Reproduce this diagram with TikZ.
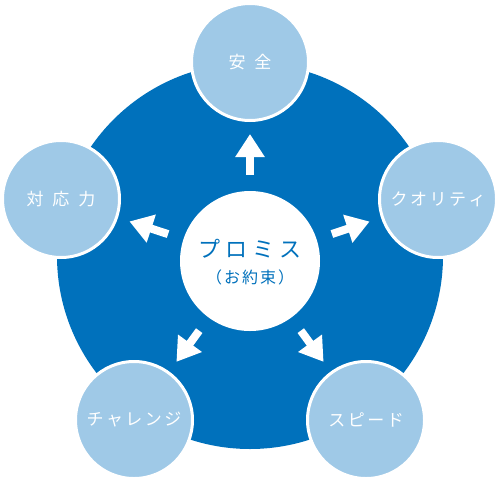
\documentclass[tikz,border=0pt]{standalone}
\usepackage{fontspec}
\setmainfont{Noto Sans CJK JP}
\usetikzlibrary{arrows.meta}
\definecolor{bigblue}{HTML}{0071BC}
\definecolor{lightblue}{HTML}{9FC9E7}
\newcommand{\kg}{\hspace{9pt}}
\newcommand{\ka}{\hspace{2.5pt}}
\newcommand{\cg}{\hspace{5pt}}
\newcommand{\sg}{\hspace{2pt}}
\begin{document}
\begin{tikzpicture}[x=1pt,y=-1pt,
  outer/.style={circle, fill=lightblue, draw=white, line width=3pt, minimum size=117pt, inner sep=0pt},
  lbl/.style={text=white, font=\fontsize{17}{20}\selectfont, inner sep=0pt},
  arr/.style={draw=white, line width=8pt, -{Triangle[width=28pt,length=23pt]}, shorten <=16pt, shorten >=12pt}]
\useasboundingbox (0,0) rectangle (500,482);
\node[circle, fill=bigblue, minimum size=386pt, inner sep=0pt] (base) at (250,256) {};
\node[outer] (top) at (250,62) {};
\node[outer] (ur) at (438,199) {};
\node[outer] (lr) at (366,420) {};
\node[outer] (ll) at (134,420) {};
\node[outer] (ul) at (61,199) {};
\node[lbl] (ttop) at (top) {安\kg 全};
\node[lbl] (tur) at (ur) {ク\ka オ\ka リ\ka テ\ka ィ};
\node[lbl] (tlr) at (lr) {ス\ka ピ\ka ー\ka ド};
\node[lbl] (tll) at (ll) {チ\ka ャ\ka レ\ka ン\ka ジ};
\node[lbl] (tul) at (ul) {対\kg 応\kg 力};
\node[circle, fill=white, minimum size=140pt, inner sep=0pt] (c) at (250,261) {};
\node[text=bigblue, font=\fontsize{22}{26}\selectfont, inner sep=0pt] (ctitle) at (250,249) {プ\cg ロ\cg ミ\cg ス};
\node[text=bigblue, font=\fontsize{16}{19}\selectfont, inner sep=0pt] (csub) at (250,277) {（\sg お\sg 約\sg 束\sg ）};
\draw[arr] (c) -- (top);
\draw[arr] (c) -- (ur);
\draw[arr] (c) -- (lr);
\draw[arr] (c) -- (ll);
\draw[arr] (c) -- (ul);
\end{tikzpicture}
\end{document}
